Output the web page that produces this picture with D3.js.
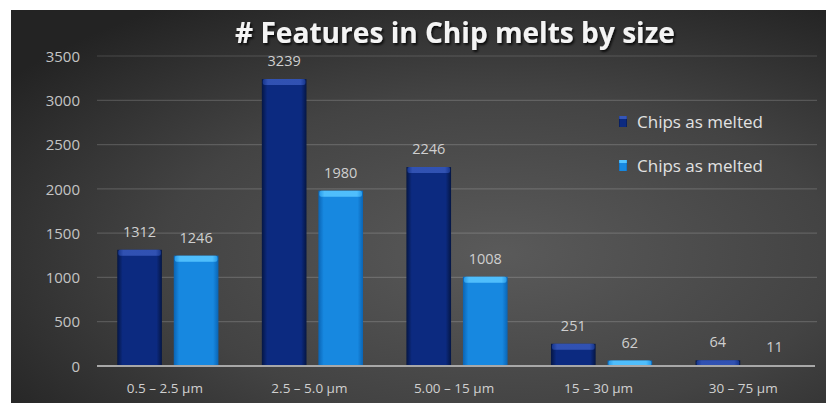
<!DOCTYPE html>
<html><head><meta charset="utf-8">
<script src="https://cdn.jsdelivr.net/npm/d3@7"></script>
<style>
html,body{margin:0;padding:0;background:#fff;}
svg{display:block;}
</style></head>
<body>
<svg id="chart" width="826" height="403"></svg>
<script>
const categories = ["0.5 – 2.5 µm", "2.5 – 5.0 µm", "5.00 – 15 µm", "15 – 30 µm", "30 – 75  µm"];
const seriesNames = ["Chips as melted", "Chips as melted"];
const seriesA = [1312, 3239, 2246, 251, 64];
const seriesB = [1246, 1980, 1008, 62, 11];
const yTicks = [0, 500, 1000, 1500, 2000, 2500, 3000, 3500];
const title = "# Features in Chip melts by size";

const svg = d3.select("#chart");
const defs = svg.append("defs");

// background gradient
const bg = defs.append("radialGradient").attr("id","bg")
  .attr("cx","0.6").attr("cy","0.62").attr("r","0.75");
bg.append("stop").attr("offset","0").attr("stop-color","#5a5a5a");
bg.append("stop").attr("offset","0.55").attr("stop-color","#434343");
bg.append("stop").attr("offset","1").attr("stop-color","#232323");

function hGrad(id, edge, mid){
  const g = defs.append("linearGradient").attr("id",id).attr("x1","0").attr("x2","1").attr("y1","0").attr("y2","0");
  g.append("stop").attr("offset","0").attr("stop-color",edge);
  g.append("stop").attr("offset","0.12").attr("stop-color",mid);
  g.append("stop").attr("offset","0.88").attr("stop-color",mid);
  g.append("stop").attr("offset","1").attr("stop-color",edge);
}
hGrad("barA","#051644","#0c2a80");
hGrad("barB","#0a64b4","#1788e0");
hGrad("capA","#1a3a94","#3556b8");
hGrad("capB","#2aa0ee","#55c4ff");

const shadow = defs.append("filter").attr("id","tshadow").attr("x","-10%").attr("y","-30%").attr("width","120%").attr("height","160%");
shadow.append("feDropShadow").attr("dx",1.5).attr("dy",2).attr("stdDeviation",1.2).attr("flood-color","#000").attr("flood-opacity",0.8);

svg.append("rect").attr("x",11).attr("y",10).attr("width",815).attr("height",393).attr("fill","url(#bg)");

const left = 97, right = 817;
const x0 = d3.scaleBand().domain(categories).range([left,right]).paddingInner(0.3).paddingOuter(0.14);
const x1 = d3.scaleBand().domain([0,1]).range([0,x0.bandwidth()]).paddingInner(0.21);
const y = d3.scaleLinear().domain([0,3500]).range([366,56]);

// gridlines
svg.append("g").selectAll("line").data(yTicks.filter(d=>d>0)).join("line")
  .attr("x1",left).attr("x2",right).attr("y1",d=>y(d)).attr("y2",d=>y(d))
  .attr("stroke","rgba(255,255,255,0.16)").attr("stroke-width",1.2);

// y axis labels
const yAxis = d3.axisLeft(y).tickValues(yTicks).tickFormat(d3.format("d")).tickSize(0).tickPadding(0);
const ya = svg.append("g").attr("transform","translate(80,0)").call(yAxis);
ya.select(".domain").remove();
ya.selectAll("text").attr("fill","#c4c4c4").attr("font-family","Open Sans").attr("font-size","15px").attr("dy","0.35em");

// bars
const data = [seriesA, seriesB];
const fills = ["url(#barA)","url(#barB)"];
const caps = ["url(#capA)","url(#capB)"];
data.forEach((vals,si)=>{
  const g = svg.append("g");
  g.selectAll("rect.bar").data(vals).join("rect").attr("class","bar")
    .attr("x",(d,i)=>x0(categories[i])+x1(si)).attr("width",x1.bandwidth())
    .attr("y",d=>y(d)).attr("height",d=>y(0)-y(d)).attr("fill",fills[si]);
  g.selectAll("rect.cap").data(vals).join("rect").attr("class","cap")
    .attr("x",(d,i)=>x0(categories[i])+x1(si)+1).attr("width",x1.bandwidth()-2)
    .attr("y",d=>y(d)).attr("height",d=>Math.min(6,y(0)-y(d))).attr("rx",2)
    .attr("fill",caps[si]).attr("opacity",0.9);
  g.selectAll("text").data(vals).join("text")
    .attr("x",(d,i)=>x0(categories[i])+x1(si)+x1.bandwidth()/2)
    .attr("y",d=>y(d)-13)
    .attr("text-anchor","middle").attr("fill","#cfcfcf")
    .attr("font-family","Open Sans").attr("font-size","14.5px")
    .text(d=>d);
});

// zero axis line
svg.append("line").attr("x1",left).attr("x2",right-2).attr("y1",y(0)).attr("y2",y(0))
  .attr("stroke","#a8a8a8").attr("stroke-width",2);

// x axis labels
const xAxis = d3.axisBottom(x0).tickSize(0).tickPadding(0);
const xa = svg.append("g").attr("transform",`translate(0,${y(0)})`).call(xAxis);
xa.select(".domain").remove();
xa.selectAll("text").attr("fill","#d0d0d0").attr("font-family","Open Sans").attr("font-size","13.5px")
  .attr("dy","0").attr("y",27).attr("transform","translate(-3,0)");

// legend
const legend = svg.append("g");
seriesNames.forEach((name,i)=>{
  const ly = 122 + i*44;
  legend.append("rect").attr("x",619).attr("y",ly-6).attr("width",8).attr("height",11)
    .attr("fill",fills[i]);
  legend.append("rect").attr("x",619).attr("y",ly-6).attr("width",8).attr("height",3)
    .attr("fill",caps[i]);
  legend.append("text").attr("x",637).attr("y",ly+6).attr("fill","#e2e2e2")
    .attr("font-family","Open Sans").attr("font-size","17px").text(name);
});

// title
const t = svg.append("text").attr("x",455).attr("y",43).attr("text-anchor","middle")
  .attr("fill","#f4f4f4").attr("font-family","Open Sans").attr("font-weight","bold")
  .attr("font-size","22px").attr("filter","url(#tshadow)").text(title);
const w = t.node().getComputedTextLength();
if (w > 0) t.attr("font-size", (22*440/w).toFixed(2)+"px");
</script>
</body></html>
